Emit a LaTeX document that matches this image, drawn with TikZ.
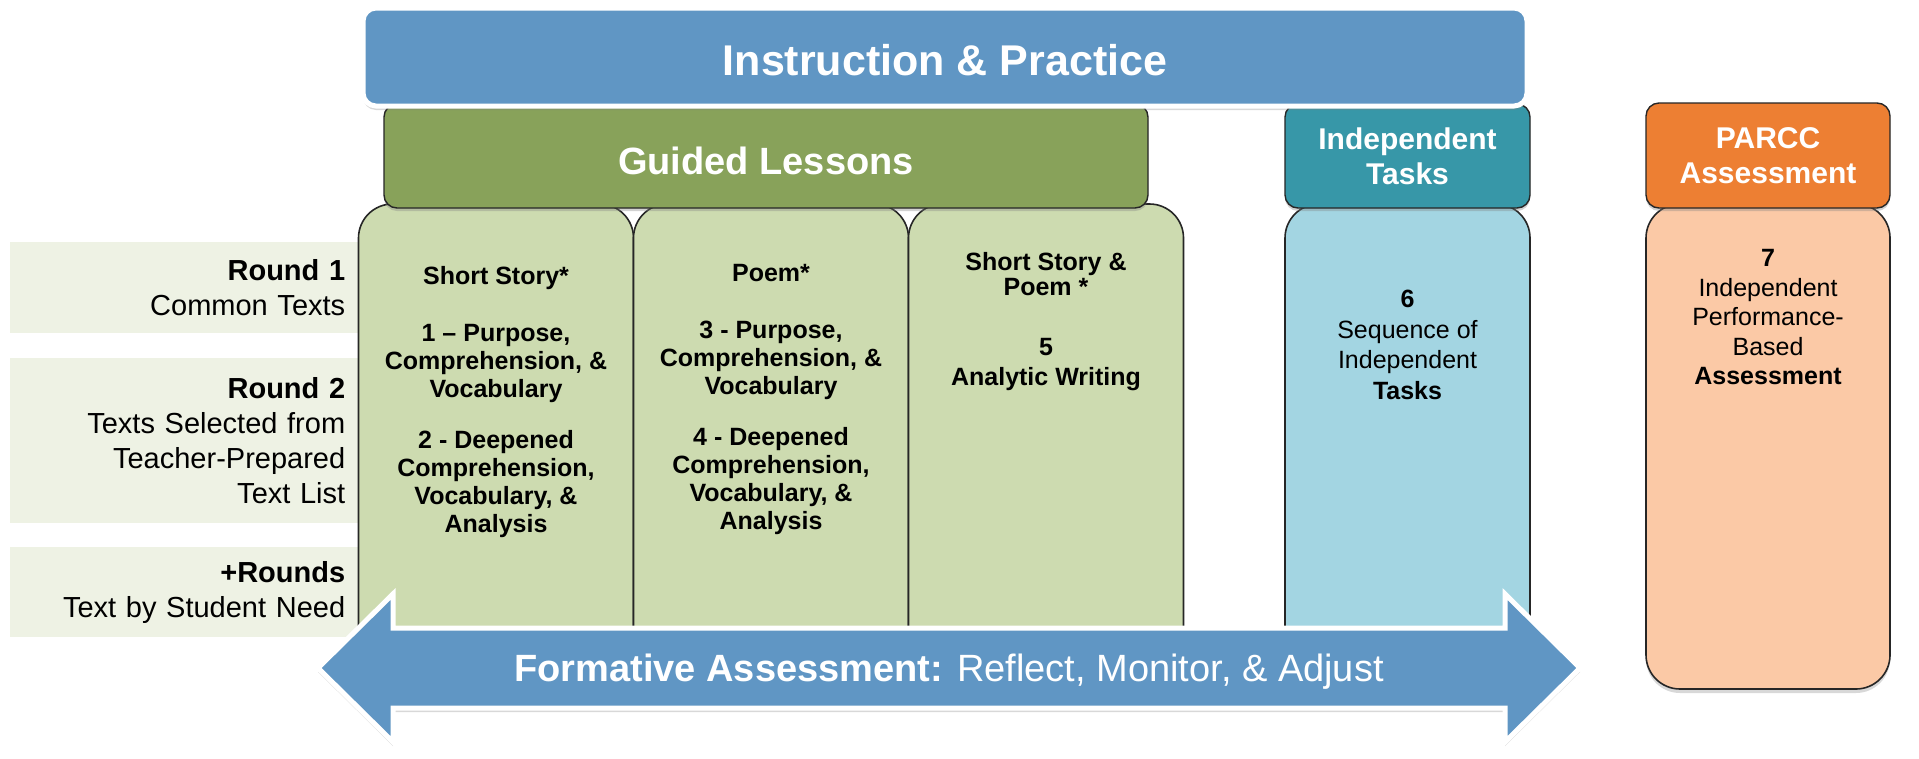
\documentclass[tikz,border=0pt]{standalone}
\usepackage{fontspec}
\setmainfont{Liberation Sans}
\usetikzlibrary{positioning,shadows}

\definecolor{instrblue}{HTML}{6096C4}
\definecolor{guidedgreen}{HTML}{88A25A}
\definecolor{lessongreen}{HTML}{CDDBB0}
\definecolor{taskteal}{HTML}{3797A8}
\definecolor{tasklight}{HTML}{A3D5E2}
\definecolor{parccorange}{HTML}{ED7F33}
\definecolor{parcclight}{HTML}{FBC9A6}
\definecolor{roundband}{HTML}{EEF2E4}

\begin{document}
\begin{tikzpicture}[x=1pt,y=-1pt,node distance=275pt,on grid,
	band/.style={fill=roundband,anchor=north west,minimum width=348pt,text width=322pt,inner xsep=13pt,align=right,font=\fontsize{29pt}{35pt}\selectfont},
	lesson/.style={draw=black!85,line width=1.6pt,rounded corners=34pt,minimum height=476pt},
	header/.style={draw=black!85,line width=1.4pt,rounded corners=13pt,text=white,align=center,drop shadow={opacity=0.35,shadow xshift=0pt,shadow yshift=-3pt}},
	coltext/.style={anchor=north,align=center,inner sep=0pt,font=\fontsize{25pt}{29.5pt}\selectfont},
	boldtext/.style={coltext,font=\fontsize{25pt}{28pt}\selectfont\bfseries},
	shade/.style={drop shadow={opacity=0.3,shadow xshift=0pt,shadow yshift=-4pt}}]

	\path[use as bounding box,fill=white] (0,0) rectangle (1919,758);

	% rounds on the left
	\node[band,minimum height=91pt] (r_1) at (10,242) {\textbf{Round 1}\\Common Texts};
	\node[band,minimum height=165pt] (r_2) at (10,358) {\textbf{Round 2}\\Texts Selected from\\Teacher-Prepared\\Text List};
	\node[band,minimum height=90pt] (r_3) at (10,547) {\textbf{+Rounds}\\Text by Student Need};

	% columns
	\node[lesson,fill=lessongreen,minimum width=275pt] (c_1) at (496,442) {};
	\node[lesson,fill=lessongreen,minimum width=275pt] (c_2) [right=of c_1] {};
	\node[lesson,fill=lessongreen,minimum width=275pt] (c_3) [right=of c_2] {};
	\node[lesson,fill=tasklight,minimum width=245pt] (c_6) at (1407.5,442) {};
	\node[lesson,fill=parcclight,minimum width=244pt,minimum height=485pt,shade] (c_7) at (1768,446.5) {};

	\node[boldtext] (t_1) at ([yshift=-63pt]c_1.north) {Short Story*\\[29pt]1 – Purpose,\\Comprehension, \&\\Vocabulary\\[23pt]2 - Deepened\\Comprehension,\\Vocabulary, \&\\Analysis};
	\node[boldtext] (t_2) at ([yshift=-61pt]c_2.north) {Poem*\\[29pt]3 - Purpose,\\Comprehension, \&\\Vocabulary\\[23pt]4 - Deepened\\Comprehension,\\Vocabulary, \&\\Analysis};
	\node[boldtext] (t_3) at ([yshift=-49pt]c_3.north) {Short Story \&\\[-3pt]Poem *\\[32pt]5\\[2pt]Analytic Writing};
	\node[coltext,font=\fontsize{25pt}{30.5pt}\selectfont] (t_6) at ([yshift=-87pt]c_6.north) {\textbf{6}\\Sequence of\\Independent\\\textbf{Tasks}};
	\node[coltext] (t_7) at ([yshift=-46pt]c_7.north) {\textbf{7}\\Independent\\Performance-\\Based\\\textbf{Assessment}};

	% headers
	\node[header,fill=guidedgreen,minimum width=764pt,minimum height=104pt,text height=36pt,text depth=0pt,font=\fontsize{38pt}{44pt}\selectfont\bfseries] (guided) at (766,156) {Guided Lessons};
	\node[header,fill=taskteal,minimum width=245pt,minimum height=104pt,font=\fontsize{30pt}{35pt}\selectfont\bfseries] (indep) at (1407.5,156) {Independent\\Tasks};
	\node[header,fill=parccorange,minimum width=244pt,minimum height=105pt,font=\fontsize{30pt}{35pt}\selectfont\bfseries] (parcc) at (1768,155.5) {PARCC\\Assessment};

	\node[fill=instrblue,draw=white,line width=5pt,rounded corners=13pt,minimum width=1164pt,minimum height=98pt,text height=36pt,text depth=0pt,text=white,font=\fontsize{43pt}{50pt}\selectfont\bfseries,shade] (instr) at (945,57) {Instruction \& Practice};

	% formative assessment arrow
	\draw[fill=instrblue,draw=white,line width=5pt,shade] (318,668) -- (393,594) -- (393,628) -- (1505,628) -- (1505,594) -- (1580,668) -- (1505,742) -- (1505,708) -- (393,708) -- (393,742) -- cycle;
	\node[text=white,text depth=0pt,font=\fontsize{38pt}{44pt}\selectfont] (formative) at (949,668) {\textbf{Formative Assessment:}\hspace{14pt}Reflect, Monitor, \& Adjust};

\end{tikzpicture}
\end{document}
